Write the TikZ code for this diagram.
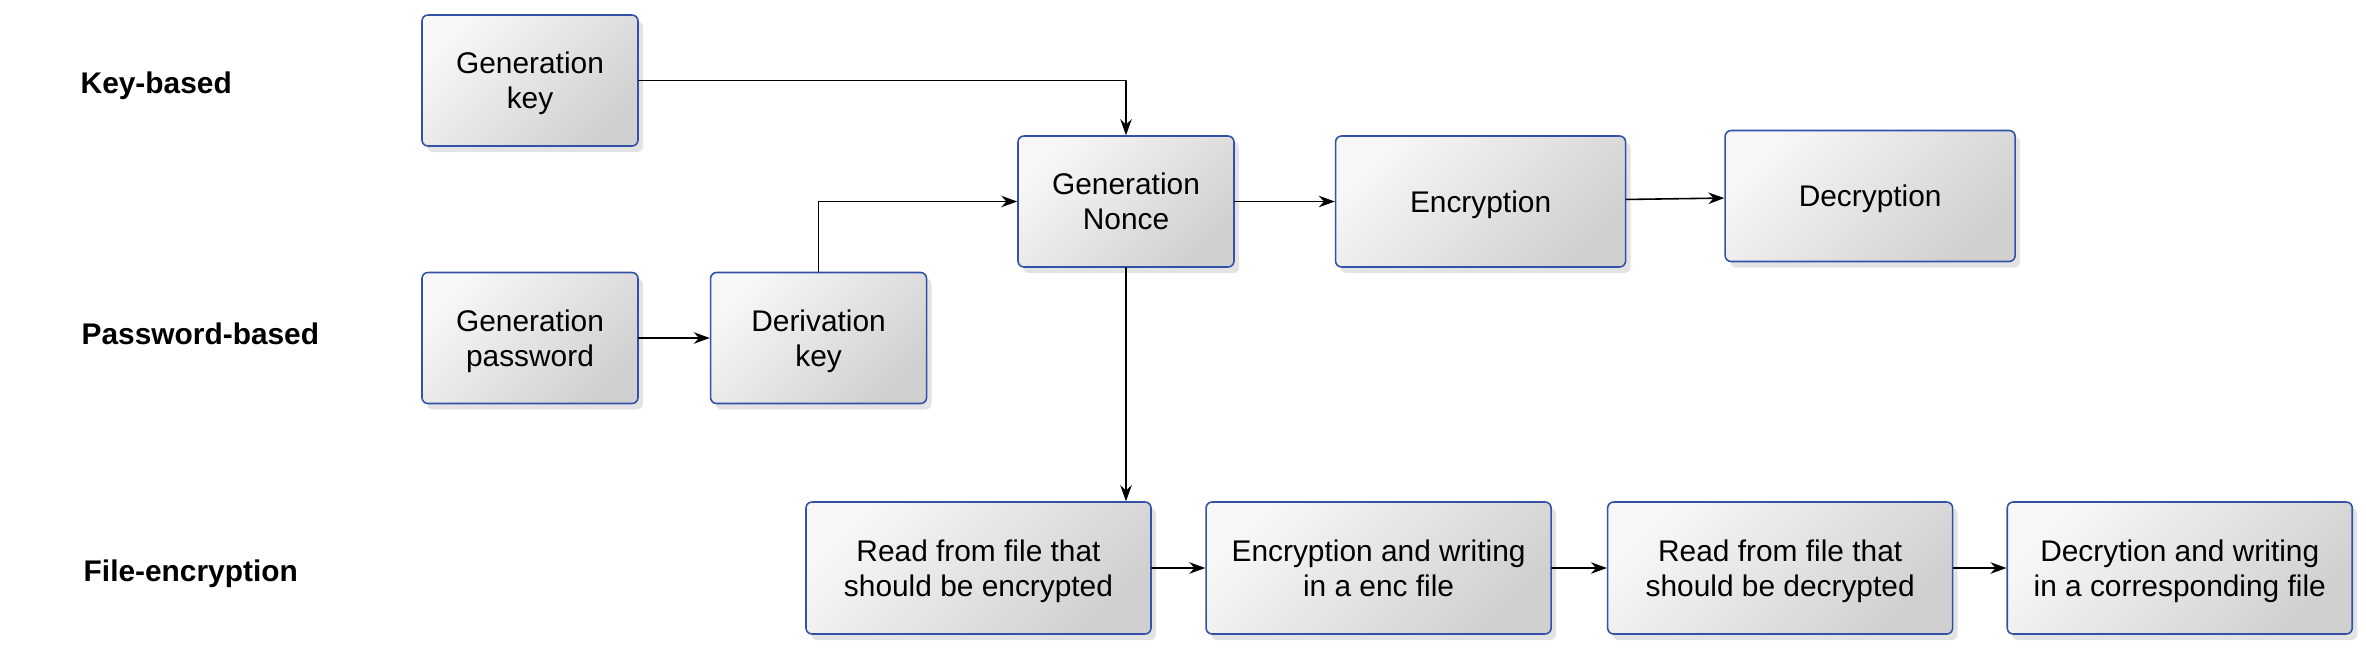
\documentclass[tikz,border=0pt]{standalone}
\usepackage{fontspec}
\setmainfont{Liberation Sans}
\usepackage{xcolor}
\usepackage{tikz}
\usetikzlibrary{arrows.meta,positioning,shadows}
\definecolor{boxblue}{HTML}{3152A6}
\definecolor{shadelight}{HTML}{F7F7F7}
\definecolor{shadedark}{HTML}{D0D0D0}
\definecolor{ink}{HTML}{000000}
\tikzset{
    every picture/.style={line cap=round,line join=round},
    stepbox/.style={draw=boxblue,line width=0.45pt,rounded corners=0.6mm,
      top color=shadelight,bottom color=shadedark,shading angle=45,
      drop shadow={shadow xshift=0.5mm,shadow yshift=-0.6mm,opacity=0.22},
      minimum width=21.6mm,minimum height=13.1mm,inner sep=1pt,
      font=\fontsize{8.5}{9.9}\selectfont,text=ink,align=center,
      text depth=-1.5pt},
    widebox/.style={stepbox,minimum width=29mm,minimum height=13.1mm},
    filebox/.style={stepbox,minimum width=34.5mm,minimum height=13.2mm},
    lanelabel/.style={anchor=west,inner sep=0pt,text=ink,
      font=\fontsize{8.5}{10}\selectfont\bfseries},
    flowarrow/.style={-{Stealth[length=1.6mm,width=1.15mm]},draw=ink,
      line width=0.45pt}
}

\begin{document}
\begin{tikzpicture}
  \useasboundingbox (0,0) rectangle (23.66,6.51);
  % lanes
  \node[lanelabel] (lkey) at (0.80,5.65) {Key-based};
  \node[lanelabel] (lpw) at (0.81,3.17) {Password-based};
  \node[lanelabel] (lfile) at (0.83,0.77) {File-encryption};
  % key and password part
  \node[stepbox] (genkey) at (5.30,5.705) {Generation\\key};
  \node[stepbox] (genpw) at (5.30,3.13) {Generation\\password};
  \node[stepbox,right=7.1mm of genpw] (derkey) {Derivation\\key};
  \node[stepbox] (nonce) at (11.26,4.495) {Generation\\Nonce};
  \node[widebox,right=10mm of nonce] (enc) {Encryption};
  \node[widebox,right=9.8mm of enc,yshift=0.55mm] (dec) {Decryption};
  % file part
  \node[filebox] (readenc) at (9.785,0.83) {Read from file that\\should be encrypted};
  \node[filebox,right=5.35mm of readenc] (encwr) {Encryption and writing\\in a enc file};
  \node[filebox,right=5.5mm of encwr] (readdec) {Read from file that\\should be decrypted};
  \node[filebox,right=5.3mm of readdec] (decwr) {Decrytion and writing\\in a corresponding file};
  % connectors
  \draw[flowarrow] (genkey.east) -| (nonce.north);
  \draw[flowarrow] (genpw) -- (derkey);
  \draw[flowarrow] (derkey.north) |- (nonce.west);
  \draw[flowarrow] (nonce) -- (enc);
  \draw[flowarrow] (enc) -- (dec);
  \draw[flowarrow] (nonce.south) -- (nonce.south |- readenc.north);
  \draw[flowarrow] (readenc) -- (encwr);
  \draw[flowarrow] (encwr) -- (readdec);
  \draw[flowarrow] (readdec) -- (decwr);
\end{tikzpicture}
\end{document}
